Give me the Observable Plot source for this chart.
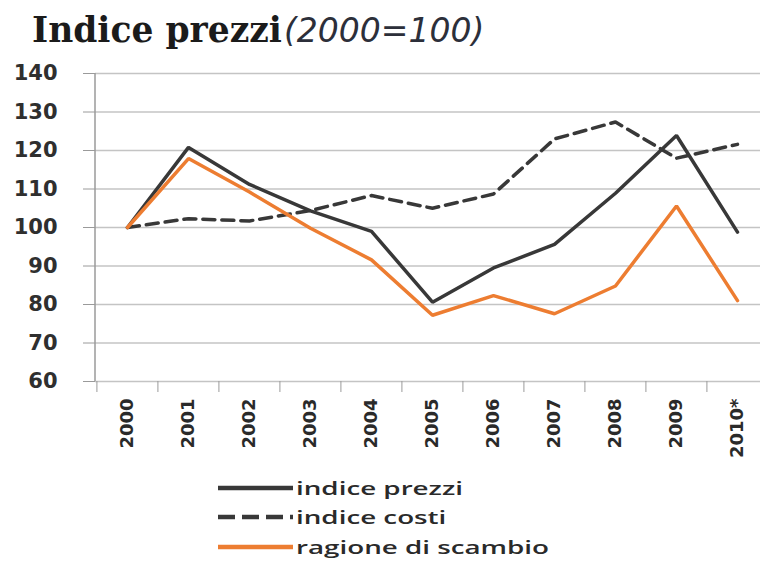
<!DOCTYPE html>
<html>
<head>
<meta charset="utf-8">
<script src="https://cdn.jsdelivr.net/npm/d3@7"></script>
<script src="https://cdn.jsdelivr.net/npm/@observablehq/plot@0.6"></script>
<style>
  body { margin: 0; background: #fff; width: 760px; height: 561px; overflow: hidden; position: relative; }
  #title { position: absolute; left: 32px; top: 13px; line-height: 34px; white-space: nowrap; }
  #title .main { font-family: "DejaVu Serif", serif; font-weight: bold; font-size: 34.5px; color: #1b1b1b; }
  #title .sub { font-family: "DejaVu Sans", sans-serif; font-style: italic; font-size: 33px; color: #2c2f3a; margin-left: 2px; }
  #chart { position: absolute; left: 0; top: 60px; }
  #legend { position: absolute; left: 218px; top: 473px; }
  .row { display: flex; align-items: center; height: 29.5px; }
  .row span { display: inline-block; font-family: "Open Sans", sans-serif; font-weight: 600; font-size: 18.5px; line-height: 22px; color: #2a2a2a; transform: scaleX(1.5); transform-origin: left center; margin-left: 3px; white-space: nowrap; }
</style>
</head>
<body>
<div id="title"><span class="main">Indice prezzi</span><span class="sub">(2000=100)</span></div>
<div id="chart"></div>
<div id="legend"></div>
<script>
// ---- data ----
const years = ["2000", "2001", "2002", "2003", "2004", "2005", "2006", "2007", "2008", "2009", "2010*"];
const indicePrezzi   = [100, 120.8, 111.2, 104.3, 99.0, 80.6, 89.5, 95.6, 108.9, 123.9, 98.8];
const indiceCosti    = [100, 102.3, 101.7, 104.4, 108.3, 105.0, 108.7, 123.0, 127.4, 118.0, 121.6];
const ragioneScambio = [100, 117.9, 109.2, 99.8, 91.6, 77.2, 82.3, 77.6, 84.8, 105.6, 81.0];
const yTicks = [60, 70, 80, 90, 100, 110, 120, 130, 140];
const seriesNames = ["indice prezzi", "indice costi", "ragione di scambio"];

// ---- styles ----
const darkColor = "#383838";
const orangeColor = "#ED7D31";
const W = 760, H = 410, mTop = 13, mBottom = 89, mLeft = 95, mRight = -8;
const step = (W - mRight - mLeft) / years.length;

const rows = (vals) => years.map((year, i) => ({year, value: vals[i]}));

const yAxisLine = (index, scales, values, dims) => {
  const l = document.createElementNS("http://www.w3.org/2000/svg", "line");
  l.setAttribute("x1", dims.marginLeft);
  l.setAttribute("x2", dims.marginLeft);
  l.setAttribute("y1", dims.marginTop);
  l.setAttribute("y2", dims.height - dims.marginBottom);
  l.setAttribute("stroke", "#9a9a9a");
  l.setAttribute("stroke-width", 1.5);
  return l;
};

const chart = Plot.plot({
  width: W, height: H,
  marginTop: mTop, marginBottom: mBottom, marginLeft: mLeft, marginRight: mRight,
  style: {background: "transparent", overflow: "hidden"},
  x: {type: "point", domain: years, padding: 0.5, label: null},
  y: {domain: [60, 140], label: null},
  marks: [
    Plot.gridY(yTicks, {stroke: "#c4c4c4", strokeOpacity: 1, strokeWidth: 1.5}),
    Plot.axisY(yTicks, {tickSize: 12, tickPadding: 26, fontSize: 21, fontWeight: "bold",
      fontFamily: "DejaVu Sans", stroke: "#9a9a9a", fill: "#2f2f2f", label: null}),
    Plot.axisX({tickSize: 11, tickFormat: () => "", dx: -step / 2, stroke: "#9a9a9a", label: null}),
    Plot.axisX({tickSize: 0, tickPadding: 17, tickRotate: -90, fontSize: 18, fontWeight: "bold",
      fontFamily: "DejaVu Sans", fill: "#2a2a2a", label: null}),
    yAxisLine,
    Plot.line(rows(indiceCosti), {x: "year", y: "value", stroke: darkColor, strokeWidth: 3.5,
      strokeDasharray: "12,7", strokeLinejoin: "miter"}),
    Plot.line(rows(indicePrezzi), {x: "year", y: "value", stroke: darkColor, strokeWidth: 3.5,
      strokeLinejoin: "miter"}),
    Plot.line(rows(ragioneScambio), {x: "year", y: "value", stroke: orangeColor, strokeWidth: 3.5,
      strokeLinejoin: "miter"})
  ]
});
document.getElementById("chart").appendChild(chart);

// ---- legend ----
const legendStyles = [
  {stroke: darkColor, dash: null},
  {stroke: darkColor, dash: "17,7"},
  {stroke: orangeColor, dash: null}
];
const legend = document.getElementById("legend");
seriesNames.forEach((name, i) => {
  const row = document.createElement("div");
  row.className = "row";
  const s = legendStyles[i];
  row.innerHTML = `<svg width="75" height="10"><line x1="0" x2="75" y1="5" y2="5" stroke="${s.stroke}" stroke-width="4.5"${s.dash ? ` stroke-dasharray="${s.dash}"` : ""}/></svg>`;
  const t = document.createElement("span");
  t.textContent = name;
  row.appendChild(t);
  legend.appendChild(row);
});
</script>
</body>
</html>
